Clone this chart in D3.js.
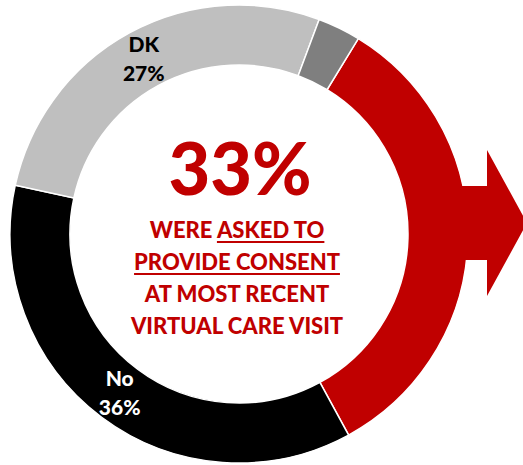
<!DOCTYPE html>
<html>
<head>
<meta charset="utf-8">
<script src="https://cdn.jsdelivr.net/npm/d3@7/dist/d3.min.js"></script>
<style>
  html, body { margin: 0; padding: 0; background: #fff; }
  svg { display: block; }
  text { font-family: Lato, "Open Sans", "Noto Sans", sans-serif; font-weight: 900; }
</style>
</head>
<body>
<script>
// Responses to: asked to provide consent at most recent virtual care visit
const categories = ["Yes", "No", "DK", "Refused"];
const values = [33, 36, 27, 3];
const colors = ["#C00000", "#000000", "#BFBFBF", "#7F7F7F"];
const showLabel = [false, true, true, false];
const labelColors = ["#ffffff", "#ffffff", "#000000", "#000000"];
const headline = "33%";
const headlineLines = [
  [{t: "WERE ", u: false}, {t: "ASKED TO", u: true}],
  [{t: "PROVIDE CONSENT", u: true}],
  [{t: "AT MOST RECENT", u: false}],
  [{t: "VIRTUAL CARE VISIT", u: false}]
];

const W = 523, H = 465;
const cx = 239, cy = 234;
const outerR = 229, innerR = 169;
const red = "#C00000";

const svg = d3.select("body").append("svg").attr("width", W).attr("height", H);
const g = svg.append("g").attr("transform", `translate(${cx},${cy})`);

const start = 31.4 * Math.PI / 180;
const pie = d3.pie().sort(null).value(d => d.value)
  .startAngle(start).endAngle(start + 2 * Math.PI);
const data = pie(categories.map((c, i) => ({cat: c, value: values[i], i})));
const arc = d3.arc().innerRadius(innerR).outerRadius(outerR);

// Arrow leaving the "Yes" segment on the right side
const arrowY = -11;
const shaftHalf = 37, headHalf = 73, shaftEnd = outerR + 19, tipX = outerR + 59;
const ap = d3.path();
ap.moveTo(outerR - 30, arrowY - shaftHalf);
ap.lineTo(shaftEnd, arrowY - shaftHalf);
ap.lineTo(shaftEnd, arrowY - headHalf);
ap.lineTo(tipX, arrowY);
ap.lineTo(shaftEnd, arrowY + headHalf);
ap.lineTo(shaftEnd, arrowY + shaftHalf);
ap.lineTo(outerR - 30, arrowY + shaftHalf);
ap.closePath();

g.selectAll("path.slice").data(data).enter().append("path")
  .attr("class", "slice")
  .attr("d", arc)
  .attr("fill", d => colors[d.data.i])
  .attr("stroke", "#fff")
  .attr("stroke-width", 1.5);

// arrow drawn over the red slice so the two merge seamlessly
g.append("path").attr("d", ap.toString()).attr("fill", red);

// Segment labels
data.forEach(d => {
  if (!showLabel[d.data.i]) return;
  const [x, y] = arc.centroid(d);
  const t = g.append("text").attr("text-anchor", "middle")
    .attr("fill", labelColors[d.data.i]).attr("font-size", 21);
  t.append("tspan").attr("x", x).attr("y", y - 7).text(d.data.cat);
  t.append("tspan").attr("x", x).attr("y", y + 22).text(d.data.value + "%");
});

// Centre statement
g.append("text").attr("text-anchor", "middle").attr("x", 1).attr("y", -39)
  .attr("fill", red).attr("font-size", 72).text(headline);

const lineY0 = 4, lineStep = 32;
headlineLines.forEach((parts, li) => {
  const t = g.append("text").attr("text-anchor", "middle")
    .attr("x", -2).attr("y", lineY0 + li * lineStep)
    .attr("fill", red).attr("font-size", 22);
  parts.forEach(p => t.append("tspan").text(p.t));
  // underline selected words
  const spans = t.selectAll("tspan").nodes();
  parts.forEach((p, pi) => {
    if (!p.u) return;
    const node = spans[pi];
    const n = node.getNumberOfChars();
    const s = node.getStartPositionOfChar(0);
    const e = node.getEndPositionOfChar(n - 1);
    g.append("rect").attr("x", s.x).attr("y", lineY0 + li * lineStep + 3)
      .attr("width", e.x - s.x).attr("height", 2).attr("fill", red);
  });
});
</script>
</body>
</html>
